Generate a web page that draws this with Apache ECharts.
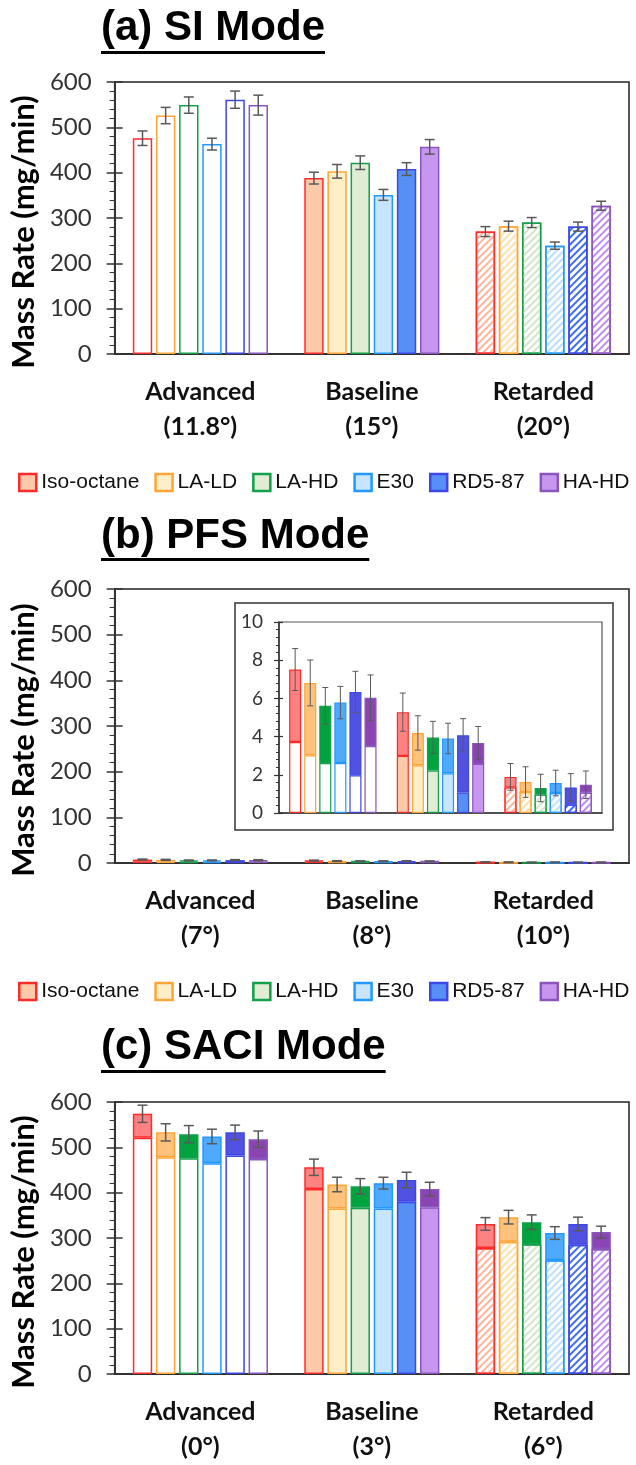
<!DOCTYPE html>
<html>
<head>
<meta charset="utf-8">
<script src="https://cdn.jsdelivr.net/npm/echarts@6/dist/echarts.min.js"></script>
<style>
  html, body { margin: 0; background: #fff; }
  #main { width: 636px; height: 1465px; }
</style>
</head>
<body>
<div id="main"></div>
<script>
// fuels and timing categories
var fuels = ['Iso-octane', 'LA-LD', 'LA-HD', 'E30', 'RD5-87', 'HA-HD'];
var siCats = ['Advanced\n(11.8°)', 'Baseline\n(15°)', 'Retarded\n(20°)'];
var pfsCats = ['Advanced\n(7°)', 'Baseline\n(8°)', 'Retarded\n(10°)'];
var saciCats = ['Advanced\n(0°)', 'Baseline\n(3°)', 'Retarded\n(6°)'];

// (a) SI mode, one row per fuel: [advanced, baseline, retarded]
var siMass = [[476, 388, 270], [526, 403, 282], [549, 422, 290], [463, 351, 239], [561, 408, 281], [549, 457, 327]];
var siErr = [[16, 13, 11], [18, 15, 11], [18, 15, 11], [13, 12, 8], [19, 14, 10], [22, 16, 10]];

// (b) PFS mode: lower part and total height
var pfsLower = [[3.72, 2.99, 1.34], [3.02, 2.50, 1.10], [2.62, 2.22, 0.96], [2.62, 2.08, 1.05], [1.97, 1.07, 0.44], [3.51, 2.57, 1.07]];
var pfsTotal = [[7.51, 5.28, 1.89], [6.81, 4.19, 1.62], [5.61, 3.95, 1.31], [5.78, 3.90, 1.57], [6.34, 4.07, 1.34], [6.03, 3.67, 1.48]];
var pfsErr = [[1.1, 1.0, 0.7], [1.2, 0.9, 0.8], [0.96, 0.85, 0.72], [0.85, 0.8, 0.67], [1.08, 0.87, 0.72], [1.2, 0.86, 0.72]];

// (c) SACI mode: lower part and total height
var saciLower = [[521, 408, 278], [478, 365, 292], [476, 367, 286], [465, 365, 251], [482, 380, 285], [474, 368, 276]];
var saciTotal = [[574, 456, 331], [533, 418, 346], [529, 414, 335], [524, 421, 311], [533, 428, 331], [518, 408, 313]];
var saciErr = [[19, 18, 14], [19, 16, 15], [19, 17, 16], [16, 13, 14], [16, 17, 15], [18, 15, 13]];

var massTicks = [0, 600, 100];
var insetTicks = [0, 10, 2];

// colours per fuel
var edge = ['#FF2A2A', '#FFA537', '#12A04B', '#2299FF', '#3D47E6', '#8A55BD'];
var light = ['#FCCAA8', '#FFEFC9', '#E1ECD5', '#C7E5FF', '#5690F5', '#C797F0'];
var dark = ['#FF8282', '#FFC27C', '#00A33D', '#4DAAFF', '#5252E2', '#8A44B4'];
var stripe = ['#FFB59C', '#FFE0A8', '#D3E5C6', '#BCDEFF', '#3F6EEC', '#BF8DEE'];

var chart = echarts.init(document.getElementById('main'));

// bottom style depends on timing: open / light fill / hatched
function lowStyle(f, c, bw) {
  var s = { color: '#fff', borderColor: edge[f], borderWidth: bw };
  if (c == 1) s.color = light[f];
  if (c == 2) {
    s.decal = {
      symbol: 'rect', symbolSize: 1, color: stripe[f], backgroundColor: null,
      dashArrayX: [1, 0], dashArrayY: [2, 2.5], rotation: -Math.PI / 4
    };
  }
  return s;
}

function barSeries(xi, yi, lower, total, barW, gap, bw) {
  var out = [];
  fuels.forEach(function (name, f) {
    out.push({
      type: 'bar', name: name, xAxisIndex: xi, yAxisIndex: yi, stack: 'p' + xi + '_' + f,
      barWidth: barW, barGap: gap, silent: true,
      data: lower[f].map(function (v, c) { return { value: v, itemStyle: lowStyle(f, c, bw) }; })
    });
    if (total) {
      out.push({
        type: 'bar', name: name, xAxisIndex: xi, yAxisIndex: yi, stack: 'p' + xi + '_' + f,
        barWidth: barW, barGap: gap, silent: true,
        data: total[f].map(function (v, c) {
          return { value: +(v - lower[f][c]).toFixed(3), itemStyle: { color: dark[f], borderColor: edge[f], borderWidth: bw } };
        })
      });
    }
  });
  return out;
}

function errSeries(xi, yi, tops, errs, barFrac, gap, cap, lw) {
  var d = [];
  fuels.forEach(function (n, f) {
    tops[f].forEach(function (v, c) { d.push([c, v, errs[f][c], f]); });
  });
  return {
    type: 'custom', xAxisIndex: xi, yAxisIndex: yi, z: 5, silent: true, data: d,
    encode: { x: 0, y: 1 },
    renderItem: function (params, api) {
      var c = api.value(0), top = api.value(1), e = api.value(2), f = api.value(3);
      var bw = api.size([1, 0])[0] * barFrac;
      var x = api.coord([c, top])[0] + (f - 2.5) * bw * (1 + gap);
      var y1 = api.coord([c, top + e])[1], y2 = api.coord([c, top - e])[1];
      var st = { stroke: '#595959', lineWidth: lw };
      return {
        type: 'group', children: [
          { type: 'line', shape: { x1: x, y1: y1, x2: x, y2: y2 }, style: st },
          { type: 'line', shape: { x1: x - cap, y1: y1, x2: x + cap, y2: y1 }, style: st },
          { type: 'line', shape: { x1: x - cap, y1: y2, x2: x + cap, y2: y2 }, style: st }
        ]
      };
    }
  };
}

function xAxis(gi, cats, show) {
  return {
    type: 'category', gridIndex: gi, data: cats,
    axisLine: { lineStyle: { color: '#333', width: show ? 2 : 1.5 } },
    axisTick: { show: false },
    axisLabel: {
      show: show, interval: 0, margin: 20, fontFamily: 'Lato', fontWeight: 'bold',
      fontSize: 25, lineHeight: 35, color: '#111'
    }
  };
}

function yAxis(gi, t, small) {
  return {
    type: 'value', gridIndex: gi, position: 'left', min: t[0], max: t[1], interval: t[2],
    name: small ? '' : 'Mass Rate (mg/min)', nameLocation: 'middle', nameGap: 64,
    nameTextStyle: { fontFamily: 'Lato', fontWeight: 'bold', fontSize: 31, color: '#000', padding: [0, 28, 0, 0] },
    axisLine: { show: true, lineStyle: { color: '#333', width: small ? 1.5 : 2 } },
    axisTick: { show: true, length: small ? 5 : 8, lineStyle: { color: '#333', width: small ? 1.2 : 1.5 } },
    minorTick: { show: true, splitNumber: 5, length: small ? 3 : 5, lineStyle: { color: '#333', width: 1 } },
    splitLine: { show: false },
    axisLabel: { margin: small ? 16 : 23, fontFamily: 'Lato', fontSize: small ? 19 : 24, color: '#333' }
  };
}

// extra axis that draws the inner half of the crossing major ticks
function yInner(gi, t, small) {
  return {
    type: 'value', gridIndex: gi, position: 'left', min: t[0], max: t[1], interval: t[2],
    axisLine: { show: false }, axisLabel: { show: false }, splitLine: { show: false },
    axisTick: { show: true, inside: true, length: small ? 4 : 8, lineStyle: { color: '#333', width: small ? 1.2 : 1.5 } }
  };
}

var legendData = fuels.map(function (n, i) {
  return { name: n, icon: 'rect', itemStyle: { color: light[i], borderColor: edge[i], borderWidth: 2.5 } };
});
function legend(top) {
  return {
    top: top, left: 18, width: 660, padding: 0, itemWidth: 17, itemHeight: 17, itemGap: 15,
    selectedMode: false, data: legendData,
    textStyle: { fontFamily: 'Liberation Sans', fontSize: 21, color: '#111' }
  };
}

// titles with underline
var titleFont = 'bold 42px "Liberation Sans"';
var ctx = document.createElement('canvas').getContext('2d');
ctx.font = titleFont;
var graphics = [];
[['(a) SI Mode', 31, 51], ['(b) PFS Mode', 539, 558], ['(c) SACI Mode', 1050, 1070]].forEach(function (t) {
  var w = ctx.measureText(t[0]).width;
  graphics.push({ type: 'text', left: 101, top: t[1] - 24, style: { text: t[0], font: titleFont, fill: '#000' } });
  graphics.push({ type: 'rect', shape: { x: 101, y: t[2], width: w, height: 3 }, style: { fill: '#000' } });
});
// inset frame
graphics.push({ type: 'rect', z: 10, shape: { x: 235, y: 603, width: 378, height: 227 }, style: { fill: null, stroke: '#333', lineWidth: 1.5 } });

var mainBw = '11.3%', mainGap = '19.5%';
var series = [].concat(
  barSeries(0, 0, siMass, null, mainBw, mainGap, 1.5),
  [errSeries(0, 0, siMass, siErr, 0.113, 0.195, 5, 1.5)],
  barSeries(1, 2, pfsLower, pfsTotal, mainBw, mainGap, 1.5),
  [errSeries(1, 2, pfsTotal, pfsErr, 0.113, 0.195, 5, 1.5)],
  barSeries(2, 4, pfsLower, pfsTotal, '11.2%', '25%', 1.2),
  [errSeries(2, 4, pfsTotal, pfsErr, 0.112, 0.25, 3, 1)],
  barSeries(3, 6, saciLower, saciTotal, mainBw, mainGap, 1.5),
  [errSeries(3, 6, saciTotal, saciErr, 0.113, 0.195, 5, 1.5)]
);

var gridBorder = { show: true, borderColor: '#222', borderWidth: 1.5 };
var option = {
  animation: false,
  backgroundColor: '#fff',
  grid: [
    Object.assign({ left: 113, top: 82, width: 516, height: 272 }, gridBorder),
    Object.assign({ left: 111, top: 589, width: 518, height: 274 }, gridBorder),
    { show: true, borderColor: '#555', borderWidth: 1.2, left: 279, top: 622, width: 323, height: 191 },
    Object.assign({ left: 113, top: 1102, width: 516, height: 272 }, gridBorder)
  ],
  xAxis: [xAxis(0, siCats, true), xAxis(1, pfsCats, true), xAxis(2, pfsCats, false), xAxis(3, saciCats, true)],
  yAxis: [
    yAxis(0, massTicks), yInner(0, massTicks),
    yAxis(1, massTicks), yInner(1, massTicks),
    yAxis(2, insetTicks, true), yInner(2, insetTicks, true),
    yAxis(3, massTicks), yInner(3, massTicks)
  ],
  legend: [legend(472), legend(981)],
  graphic: graphics,
  series: series
};
chart.setOption(option);
</script>
</body>
</html>
